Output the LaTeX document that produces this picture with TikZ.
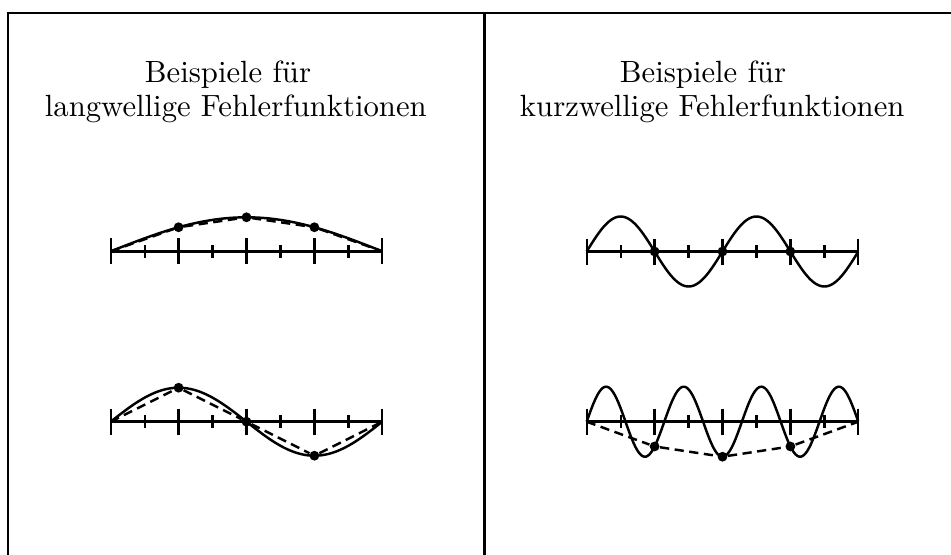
\documentclass[tikz,border=0pt]{standalone}
\usepackage{fontspec}
\usepackage{tikz}
\usetikzlibrary{calc}
\tikzset{
  rahmen/.style={line width=.9pt},
  axisline/.style={line width=.8pt},
  tickline/.style={line width=.75pt},
  wave/.style={line width=.8pt},
  approx/.style={line width=.8pt,dash pattern=on 3pt off 1.8pt},
  knot/.style={circle,fill=black,inner sep=0pt,minimum size=3.2pt},
  titel/.style={anchor=base,inner sep=0pt}
}
% axis with 8 intervals: #1 name prefix, #2 left end x, #3 y
\newcommand{\achse}[3]{%
  \foreach \i in {0,...,8}{\coordinate (#1\i) at ({#2+33.95*\i},#3);}
  \draw[axisline] (#10) -- (#18);
  \foreach \i in {0,2,...,8}{\draw[tickline] ($(#1\i)+(0,-13)$) -- ($(#1\i)+(0,13)$);}
  \foreach \i in {1,3,...,7}{\draw[tickline] ($(#1\i)+(0,-6.5)$) -- ($(#1\i)+(0,6.5)$);}
}

\begin{document}
\begin{tikzpicture}[x=0.32573pt,y=-0.32573pt]
  \useasboundingbox (0,0) rectangle (951,554);

  % frame
  \coordinate (fl) at (8,560);
  \coordinate (ftl) at (8,13);
  \coordinate (ftr) at (960,13);
  \coordinate (mt) at (484.5,13);
  \coordinate (mb) at (484.5,560);
  \draw[rahmen] (fl) -- (ftl) -- (ftr);
  \draw[rahmen] (mt) -- (mb);

  % titles
  \node[titel] (tl1) at (228,82.3) {Beispiele für};
  \node[titel] (tl2) at (235.8,116) {langwellige Fehlerfunktionen};
  \node[titel] (tr1) at (703,82.3) {Beispiele für};
  \node[titel] (tr2) at (712.2,116) {kurzwellige Fehlerfunktionen};

  % long waves
  \achse{a}{110.7}{251.3}
  \draw[wave] plot[domain=0:1,samples=80,variable=\t] ({110.7+271.6*\t},{251.3-34*sin(180*\t)});
  \node[knot] (a1p) at ($(a2)+(0,{-34*sin(45)})$) {};
  \node[knot] (a2p) at ($(a4)+(0,-34)$) {};
  \node[knot] (a3p) at ($(a6)+(0,{-34*sin(45)})$) {};
  \draw[approx] (a0) -- (a1p) -- (a2p) -- (a3p) -- (a8);

  \achse{b}{110.7}{421.7}
  \draw[wave] plot[domain=0:1,samples=100,variable=\t] ({110.7+271.6*\t},{421.7-34*sin(360*\t)});
  \node[knot] (b1p) at ($(b2)+(0,-34)$) {};
  \node[knot] (b2p) at (b4) {};
  \node[knot] (b3p) at ($(b6)+(0,34)$) {};
  \draw[approx] (b0) -- (b1p) -- (b2p) -- (b3p) -- (b8);

  % short waves
  \achse{c}{586.7}{251.5}
  \draw[wave] plot[domain=0:1,samples=160,variable=\t] ({586.7+271.6*\t},{251.5-35*sin(720*\t)});
  \node[knot] (c1p) at (c2) {};
  \node[knot] (c2p) at (c4) {};
  \node[knot] (c3p) at (c6) {};

  \achse{d}{586.7}{421.7}
  \draw[wave] plot[domain=0:1,samples=240,variable=\t] ({586.7+271.6*\t},{421.7-35*sin(1260*\t)});
  \node[knot] (d1p) at ($(d2)+(0,{35*sin(45)})$) {};
  \node[knot] (d2p) at ($(d4)+(0,35)$) {};
  \node[knot] (d3p) at ($(d6)+(0,{35*sin(45)})$) {};
  \draw[approx] (d0) -- (d1p) -- (d2p) -- (d3p) -- (d8);
\end{tikzpicture}
\end{document}
